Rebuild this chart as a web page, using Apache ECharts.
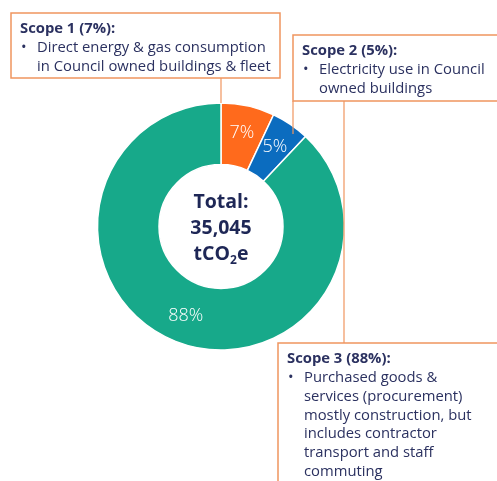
<!DOCTYPE html>
<html><head><meta charset="utf-8">
<script src="https://cdn.jsdelivr.net/npm/echarts@6/dist/echarts.min.js"></script>
<style>html,body{margin:0;padding:0;background:#fff}#c{width:497px;height:481px}</style>
</head><body><div id="c"></div>
<script>
const categories = ['Scope 1', 'Scope 2', 'Scope 3'];
const values = [7, 5, 88];
const colors = ['#FF6A1C', '#0B6CBF', '#17A98A'];
const totalLabel = 'Total:';
const totalValue = '35,045';
const scope1Lines = ['Direct energy & gas consumption', 'in Council owned buildings & fleet'];
const scope2Lines = ['Electricity use in Council', 'owned buildings'];
const scope3Lines = ['Purchased goods &', 'services (procurement)', 'mostly construction, but', 'includes contractor', 'transport and staff', 'commuting'];

const FONT = 'Open Sans';
const TXT = '#2B3160';
const BORDER = '#F0955F';
const FS = 14.8;

function box(x, y, w, h, title, lines) {
  const els = [{
    type: 'rect', shape: { x: x, y: y, width: w, height: h },
    style: { fill: '#fff', stroke: BORDER, lineWidth: 1.5 }, z: 10
  }, {
    type: 'text', x: x + 9, y: y + 8, z: 11,
    style: { text: title, font: 'bold ' + FS + 'px "' + FONT + '"', fill: TXT }
  }];
  lines.forEach((t, i) => {
    if (i === 0) els.push({ type: 'text', x: x + 10, y: y + 27.5, z: 11,
      style: { text: '•', font: FS + 'px "' + FONT + '"', fill: TXT } });
    els.push({ type: 'text', x: x + 26, y: y + 27.5 + i * 18.7, z: 11,
      style: { text: t, font: FS + 'px "' + FONT + '"', fill: TXT } });
  });
  return els;
}
function vline(x, y1, y2) {
  return { type: 'line', shape: { x1: x, y1: y1, x2: x, y2: y2 },
    style: { stroke: BORDER, lineWidth: 1.2 }, z: 9 };
}

const chart = echarts.init(document.getElementById('c'));
chart.setOption({
  animation: false,
  series: [{
    type: 'pie',
    center: [221, 226.5],
    radius: [62, 123.5],
    startAngle: 90,
    clockwise: true,
    label: {
      show: true, position: 'inside', formatter: '{c}%',
      color: '#fff', fontSize: 18, fontFamily: FONT, fontWeight: 300
    },
    labelLine: { show: false },
    itemStyle: { borderColor: '#fff', borderWidth: 1.5 },
    data: categories.map((c, i) => ({ name: c, value: values[i], itemStyle: { color: colors[i] } }))
  }],
  graphic: [
    vline(221, 78, 103),
    vline(293, 101, 134),
    vline(344, 101, 343),
    ...box(11, 13, 269, 65, 'Scope 1 (7%):', scope1Lines),
    ...box(293, 35, 210, 66, 'Scope 2 (5%):', scope2Lines),
    ...box(278, 343, 230, 150, 'Scope 3 (88%):', scope3Lines),
    {
      type: 'text', x: 221, y: 228, z: 12,
      style: {
        text: '{a|' + totalLabel + '}\n{a|' + totalValue + '}\n{a|tCO}{s|2}{a|e}',
        rich: {
          a: { font: 'bold 19.5px "' + FONT + '"', fill: '#1E2756', lineHeight: 26 },
          s: { font: 'bold 12px "' + FONT + '"', fill: '#1E2756', lineHeight: 17, verticalAlign: 'bottom' }
        },
        align: 'center', verticalAlign: 'middle'
      }
    }
  ]
});
</script></body></html>
